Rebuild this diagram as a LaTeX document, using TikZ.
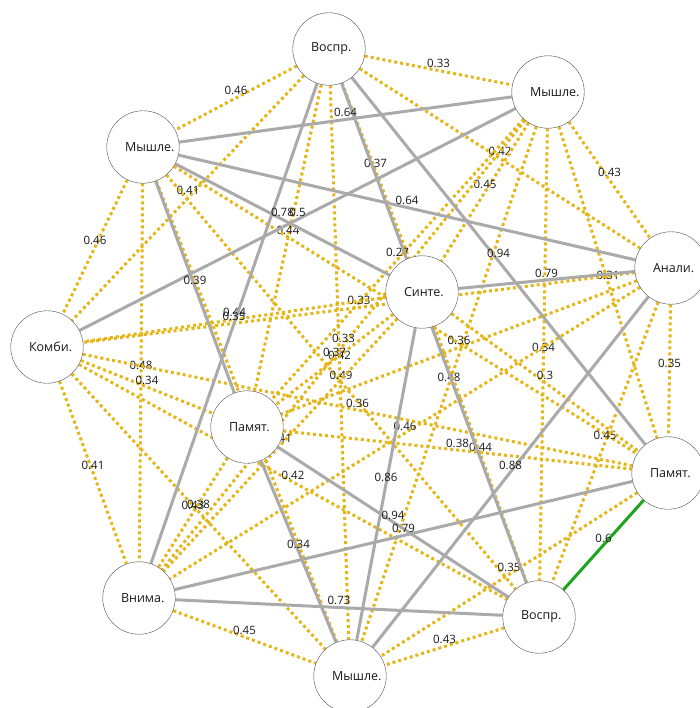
\documentclass[tikz,border=0pt]{standalone}
\usepackage{fontspec}
\setmainfont{Open Sans}
\usetikzlibrary{backgrounds}

\definecolor{gold}{RGB}{228,182,23}
\definecolor{lgray}{RGB}{170,170,170}
\definecolor{lgreen}{RGB}{30,165,30}

\tikzset{
    vertex/.style = {circle, draw=black!70, fill=white, minimum size=72.5pt, inner sep=0pt,
                     text width=36pt, align=left, font=\fontsize{12.5}{14}\selectfont, text=black!90},
    weak/.style   = {draw=gold, line width=3pt, dash pattern=on 3pt off 3pt},
    strong/.style = {draw=lgray, line width=3pt},
    best/.style   = {draw=lgreen, line width=3pt},
    val/.style    = {anchor=base, yshift=3pt, inner sep=0pt, font=\fontsize{11.5}{13}\selectfont, text=black!90},
}

\begin{document}
\begin{tikzpicture}[x=1pt, y=-1pt]
\useasboundingbox (0,0) rectangle (699,708);

% nodes
\node[vertex] (vos1) at (329,49)  {Воспр.};
\node[vertex] (mys1) at (548,92)  {Мышле.};
\node[vertex] (mys2) at (143,147) {Мышле.};
\node[vertex] (ana)  at (671,268) {Анали.};
\node[vertex] (syn)  at (422,292) {Синте.};
\node[vertex] (kom)  at (47,347)  {Комби.};
\node[vertex] (pam1) at (247,427) {Памят.};
\node[vertex] (pam2) at (668,473) {Памят.};
\node[vertex] (vni)  at (139,598) {Внима.};
\node[vertex] (vos2) at (539,617) {Воспр.};
\node[vertex] (mys3) at (350,676) {Мышле.};

\begin{pgfonlayer}{background}
% weak links
\draw[weak] (vos1) -- node[val]{0.33} (mys1);
\draw[weak] (vos1) -- node[val]{0.46} (mys2);
\draw[weak] (vos1) -- node[val]{0.42} (ana);
\draw[weak] (vos1) -- node[val]{0.37} (syn);
\draw[weak] (vos1) -- node[val]{0.41} (kom);
\draw[weak] (vos1) -- node[val]{0.44} (pam1);
\draw[weak] (vos1) -- node[val]{0.42} (mys3);
\draw[weak] (mys1) -- node[val]{0.43} (ana);
\draw[weak] (mys1) -- node[val]{0.45} (syn);
\draw[weak] (mys1) -- node[val]{0.27} (pam1);
\draw[weak] (mys1) -- node[val]{0.31} (pam2);
\draw[weak] (mys1) -- node[val]{0.33} (vni);
\draw[weak] (mys1) -- node[val]{0.34} (vos2);
\draw[weak] (mys1) -- node[val]{0.48} (mys3);
\draw[weak] (mys2) -- node[val]{0.46} (kom);
\draw[weak] (mys2) -- (pam2);
\draw[weak] (mys2) -- node[val]{0.48} (vni);
\draw[weak] (mys2) -- node[val]{0.49} (vos2);
\draw[weak] (mys2) -- (mys3);
\draw[weak] (ana) -- node[val]{0.33} (kom);
\draw[weak] (ana) -- node[val]{0.36} (pam1);
\draw[weak] (ana) -- node[val]{0.35} (pam2);
\draw[weak] (ana) -- node[val]{0.46} (vni);
\draw[weak] (ana) -- node[val]{0.45} (vos2);
\draw[weak] (syn) -- node[val]{0.44} (kom);
\draw[weak] (syn) -- node[val]{0.37} (pam1);
\draw[weak] (syn) -- node[val]{0.3} (pam2);
\draw[weak] (syn) -- node[val]{0.41} (vni);
\draw[weak] (syn) -- node[val]{0.44} (vos2);
\draw[weak] (kom) -- node[val]{0.34} (pam1);
\draw[weak] (kom) -- node[val]{0.36} (pam2);
\draw[weak] (kom) -- node[val]{0.41} (vni);
\draw[weak] (kom) -- node[val]{0.42} (vos2);
\draw[weak] (kom) -- node[val]{0.38} (mys3);
\draw[weak] (pam1) -- node[val]{0.38} (pam2);
\draw[weak] (pam1) -- node[val]{0.43} (vni);
\draw[weak] (pam2) -- node[val]{0.35} (mys3);
\draw[weak] (vni) -- node[val]{0.45} (mys3);
\draw[weak] (vos2) -- node[val]{0.43} (mys3);
% strong links
\draw[strong] (vos1) -- node[val]{0.94} (pam2);
\draw[strong] (vos1) -- node[val]{0.35} (vni);
\draw[strong] (vos1) -- (vos2);
\draw[strong] (mys1) -- node[val]{0.64} (mys2);
\draw[strong] (mys1) -- node[val]{0.5} (kom);
\draw[strong] (mys2) -- node[val]{0.64} (ana);
\draw[strong] (mys2) -- node[val]{0.78} (syn);
\draw[strong] (mys2) -- node[val]{0.39} (pam1);
\draw[strong] (ana) -- node[val]{0.79} (syn);
\draw[strong] (ana) -- node[val]{0.88} (mys3);
\draw[strong] (syn) -- node[val]{0.86} (mys3);
\draw[strong] (pam1) -- node[val]{0.94} (vos2);
\draw[strong] (pam1) -- node[val]{0.34} (mys3);
\draw[strong] (pam2) -- node[val]{0.79} (vni);
\draw[strong] (vni) -- node[val]{0.73} (vos2);
% best link
\draw[best] (pam2) -- node[val]{0.6} (vos2);
\end{pgfonlayer}
\end{tikzpicture}
\end{document}
